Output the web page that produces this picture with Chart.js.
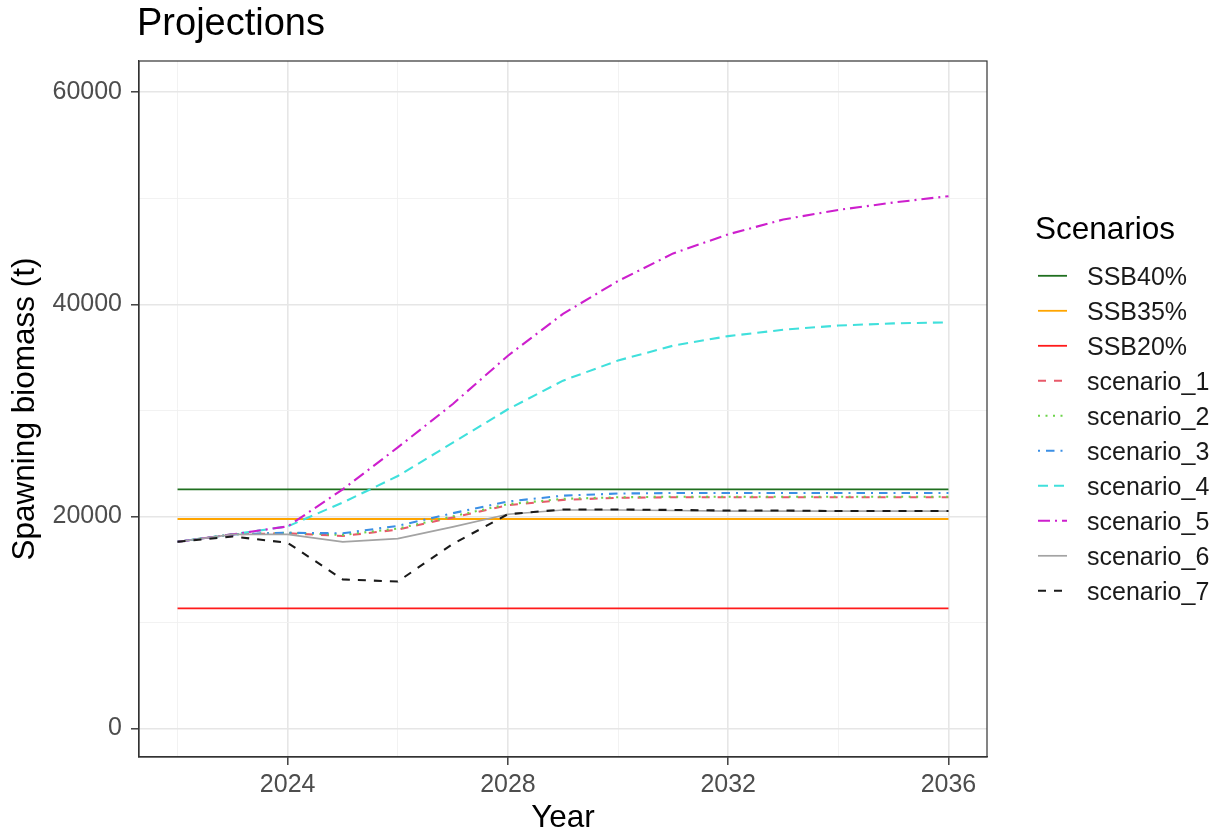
<!DOCTYPE html>
<html lang="en">

<head>
    <meta charset="UTF-8">
    <title>Projections</title>
    <style>
        body {
            margin: 0;
            background: #fff;
            font-family: "Liberation Sans", Arial, Helvetica, sans-serif;
        }

        #wrap {
            position: relative;
            width: 1222px;
            height: 837px;
        }

        #title {
            position: absolute;
            left: 137px;
            top: 3px;
            font-size: 38px;
            line-height: 38px;
            color: #000;
        }

        #legend {
            position: absolute;
            left: 1035px;
            top: 213px;
        }

        .legend-title {
            font-size: 31.5px;
            line-height: 31.5px;
            height: 46px;
            color: #000;
        }

        .legend-item {
            position: relative;
            height: 35px;
            line-height: 35px;
            font-size: 25px;
            color: #1a1a1a;
            white-space: nowrap;
        }

        .legend-item svg {
            position: absolute;
            left: 3px;
            top: 0;
        }

        .legend-item span {
            position: absolute;
            left: 52px;
        }
    </style>
</head>

<body>
    <div id="wrap">
        <canvas id="chart" width="1222" height="837"></canvas>
        <div id="title">Projections</div>
        <div id="legend"></div>
    </div>

    <script src="https://cdn.jsdelivr.net/npm/chart.js"></script>

    <script>
        // projection years and axis breaks
        const years = [2022, 2023, 2024, 2025, 2026, 2027, 2028, 2029, 2030, 2031, 2032, 2033, 2034, 2035, 2036];
        const xBreaks = [2022, 2024, 2026, 2028, 2030, 2032, 2034, 2036];
        const xLabels = [2024, 2028, 2032, 2036];
        const yBreaks = [0, 10000, 20000, 30000, 40000, 50000, 60000];
        const yLabels = [0, 20000, 40000, 60000];

        // reference points (horizontal lines)
        const refNames = ["SSB40%", "SSB35%", "SSB20%"];
        const refValues = [22550, 19750, 11310];

        // spawning biomass by scenario
        const scenario1 = [17600, 18300, 18400, 18150, 18750, 19900, 21050, 21550, 21750, 21800, 21800, 21800, 21800, 21800, 21800];
        const scenario2 = [17600, 18300, 18450, 18250, 18850, 20000, 21150, 21650, 21800, 21850, 21850, 21850, 21850, 21850, 21850];
        const scenario3 = [17600, 18300, 18450, 18400, 19100, 20300, 21400, 21950, 22150, 22200, 22200, 22200, 22200, 22200, 22200];
        const scenario4 = [17600, 18300, 19050, 21300, 23800, 26950, 30100, 32800, 34700, 36100, 37000, 37600, 38000, 38200, 38300];
        const scenario5 = [17600, 18300, 19050, 22550, 26500, 30600, 35150, 39100, 42200, 44800, 46600, 48000, 48900, 49600, 50200];
        const scenario6 = [17600, 18300, 18300, 17600, 17900, 19000, 20200, 20600, 20600, 20550, 20500, 20500, 20500, 20500, 20500];
        const scenario7 = [17600, 18100, 17500, 14050, 13850, 17400, 20200, 20650, 20650, 20600, 20550, 20550, 20500, 20500, 20500];

        const scenarioNames = ["scenario_1", "scenario_2", "scenario_3", "scenario_4", "scenario_5", "scenario_6", "scenario_7"];
        const scenarioValues = [scenario1, scenario2, scenario3, scenario4, scenario5, scenario6, scenario7];

        const refColors = ["#1f6f1f", "#ffa500", "#ff1a1a"];
        const scenarioColors = ["#e8596a", "#6cd44a", "#3b8fe5", "#40e0dc", "#cd1fcd", "#a3a3a3", "#1a1a1a"];
        const scenarioDash = [[8, 8], [2, 5.5], [2, 6, 8.5, 6], [10, 6], [12, 5, 2, 5], [], [8, 8]];

        Chart.defaults.font.family = '"Liberation Sans", Arial, Helvetica, sans-serif';

        const datasets = [];
        refNames.forEach((name, i) => {
            datasets.push({
                label: name,
                data: [{ x: years[0], y: refValues[i] }, { x: years[years.length - 1], y: refValues[i] }],
                borderColor: refColors[i],
                borderWidth: 1.8,
                borderDash: []
            });
        });
        scenarioNames.forEach((name, i) => {
            datasets.push({
                label: name,
                data: years.map((yr, j) => ({ x: yr, y: scenarioValues[i][j] })),
                borderColor: scenarioColors[i],
                borderWidth: name === "scenario_6" ? 1.7 : 2.1,
                borderDash: scenarioDash[i]
            });
        });
        // later layers on top, like ggplot
        datasets.forEach((d, i) => {
            d.order = datasets.length - i;
            d.pointRadius = 0;
            d.fill = false;
            d.tension = 0;
        });

        const majorGrid = "#e6e6e6";
        const minorGrid = "#f0f0f0";

        // panel border drawn over the data
        const panelBorder = {
            id: "panelBorder",
            afterDatasetsDraw(chart) {
                const { ctx, chartArea: a } = chart;
                ctx.save();
                ctx.strokeStyle = "#333333";
                ctx.lineWidth = 1.2;
                ctx.strokeRect(a.left, a.top, a.right - a.left, a.bottom - a.top);
                ctx.restore();
            }
        };

        new Chart(document.getElementById("chart"), {
            type: "line",
            data: { datasets: datasets },
            plugins: [panelBorder],
            options: {
                responsive: false,
                animation: false,
                devicePixelRatio: 1,
                layout: { padding: { left: 0, right: 235, top: 61, bottom: 0 } },
                plugins: {
                    legend: { display: false },
                    tooltip: { enabled: false }
                },
                scales: {
                    x: {
                        type: "linear",
                        min: 2021.3,
                        max: 2036.7,
                        afterBuildTicks: s => { s.ticks = xBreaks.map(v => ({ value: v })); },
                        afterFit: s => { s.height = 80; },
                        ticks: {
                            autoSkip: false,
                            maxRotation: 0,
                            padding: 5,
                            color: "#4d4d4d",
                            font: { size: 25 },
                            callback: v => xLabels.includes(v) ? String(v) : ""
                        },
                        grid: {
                            color: c => xLabels.includes(c.tick.value) ? majorGrid : minorGrid,
                            lineWidth: c => xLabels.includes(c.tick.value) ? 1.6 : 0.9,
                            tickColor: c => xLabels.includes(c.tick.value) ? "#333333" : "rgba(0,0,0,0)",
                            tickLength: 8,
                            tickWidth: 1.4
                        },
                        border: { display: true, color: "#333333", width: 1.2 },
                        title: {
                            display: true,
                            text: "Year",
                            color: "#000",
                            font: { size: 31.5 },
                            padding: { top: 0, bottom: 0 }
                        }
                    },
                    y: {
                        min: -2700,
                        max: 62950,
                        afterBuildTicks: s => { s.ticks = yBreaks.map(v => ({ value: v })); },
                        afterFit: s => { s.width = 139; },
                        ticks: {
                            padding: 9,
                            color: "#4d4d4d",
                            font: { size: 25 },
                            callback: v => yLabels.includes(v) ? String(v) : ""
                        },
                        grid: {
                            color: c => yLabels.includes(c.tick.value) ? majorGrid : minorGrid,
                            lineWidth: c => yLabels.includes(c.tick.value) ? 1.6 : 0.9,
                            tickColor: c => yLabels.includes(c.tick.value) ? "#333333" : "rgba(0,0,0,0)",
                            tickLength: 8,
                            tickWidth: 1.4
                        },
                        border: { display: true, color: "#333333", width: 1.2 },
                        title: {
                            display: true,
                            text: "Spawning biomass (t)",
                            color: "#000",
                            font: { size: 31.5 },
                            padding: { top: 6, bottom: 0 }
                        }
                    }
                }
            }
        });

        // html legend built from the same datasets
        const legend = document.getElementById("legend");
        legend.innerHTML = '<div class="legend-title">Scenarios</div>';
        datasets.forEach(d => {
            const row = document.createElement("div");
            row.className = "legend-item";
            const dash = d.borderDash.length ? `stroke-dasharray="${d.borderDash.join(" ")}"` : "";
            row.innerHTML = `
                <svg width="29" height="35"><line x1="0" y1="16.8" x2="29" y2="16.8" stroke="${d.borderColor}" stroke-width="${d.borderWidth}" ${dash}/></svg>
                <span>${d.label}</span>
            `;
            legend.appendChild(row);
        });
    </script>
</body>

</html>
